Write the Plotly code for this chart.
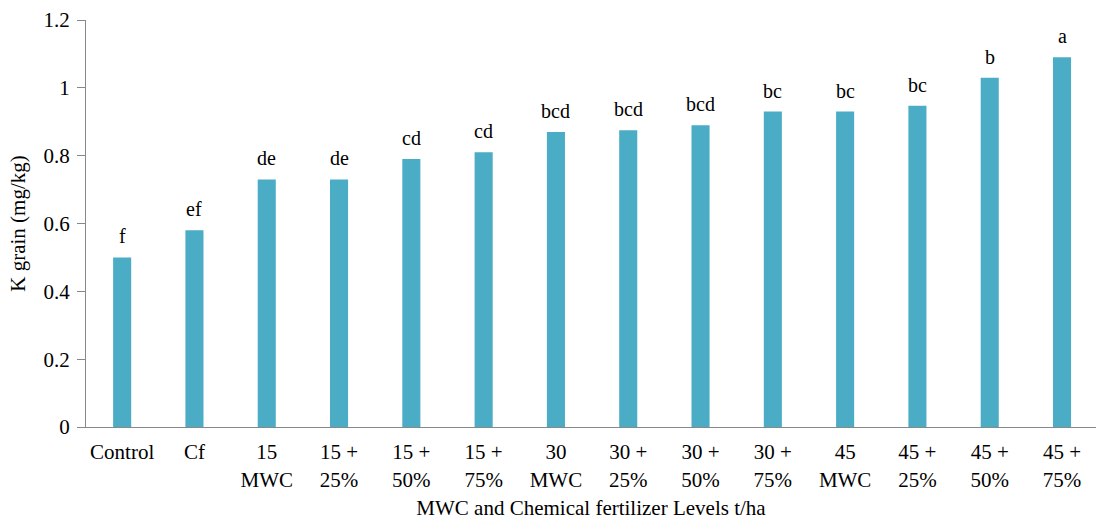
import plotly.graph_objects as go

categories = ["Control", "Cf", "15<br>MWC", "15 +<br>25%", "15 +<br>50%", "15 +<br>75%",
              "30<br>MWC", "30 +<br>25%", "30 +<br>50%", "30 +<br>75%",
              "45<br>MWC", "45 +<br>25%", "45 +<br>50%", "45 +<br>75%"]
values = [0.50, 0.58, 0.73, 0.73, 0.79, 0.81, 0.87, 0.875, 0.89, 0.93, 0.93, 0.947, 1.03, 1.09]
letters = ["f", "ef", "de", "de", "cd", "cd", "bcd", "bcd", "bcd", "bc", "bc", "bc", "b", "a"]
y_ticks = [0, 0.2, 0.4, 0.6, 0.8, 1.0, 1.2]
y_tick_labels = ["0", "0.2", "0.4", "0.6", "0.8", "1", "1.2"]

FONT = "Liberation Serif"

fig = go.Figure()
fig.add_trace(go.Bar(x=list(range(len(categories))), y=values,
                     marker=dict(color="#4BACC6", line=dict(width=0)),
                     width=0.25, hoverinfo="skip"))

for i, (v, t) in enumerate(zip(values, letters)):
    fig.add_annotation(x=i, y=v, text=t, showarrow=False, yanchor="bottom", yshift=8,
                       font=dict(family=FONT, size=20, color="#000"))

fig.update_layout(
    width=1096, height=520,
    margin=dict(l=86, r=0, t=20, b=93),
    plot_bgcolor="white", paper_bgcolor="white",
    showlegend=False,
    font=dict(family=FONT, size=21, color="#000"),
    xaxis=dict(showline=True, linecolor="#888", linewidth=1, ticks="", showgrid=False,
               automargin=False, range=[-0.5, 13.47],
               tickmode="array", tickvals=list(range(len(categories))), ticktext=categories,
               ticklabelstandoff=6,
               tickfont=dict(family=FONT, size=21),
               title=dict(text="MWC and Chemical fertilizer Levels t/ha",
                          font=dict(family=FONT, size=21), standoff=20)),
    yaxis=dict(range=[0, 1.2], tickvals=y_ticks, ticktext=y_tick_labels, showline=True,
               automargin=False,
               linecolor="#888", linewidth=1, ticks="outside", ticklen=8, tickcolor="#888",
               ticklabelstandoff=3,
               showgrid=False, zeroline=False, tickfont=dict(family=FONT, size=21),
               title=dict(text="K grain (mg/kg)", font=dict(family=FONT, size=21), standoff=12)),
)

fig.write_html("out.html", config={"displayModeBar": False},
               post_script="document.body.style.margin='0';")
